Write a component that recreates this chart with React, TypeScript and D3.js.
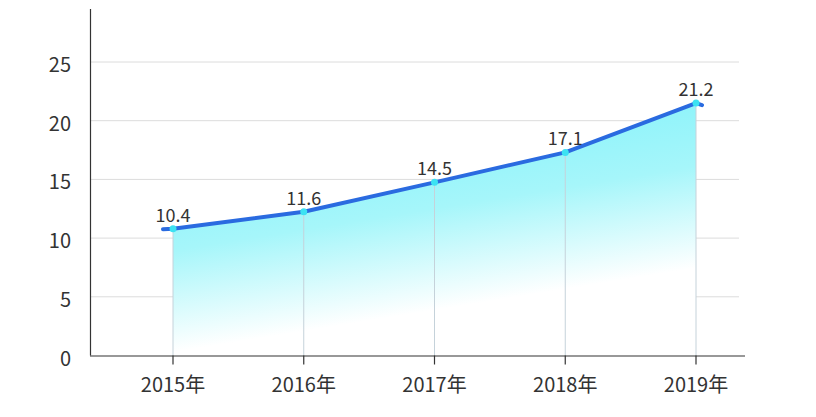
import { useEffect, useRef } from 'react';
import * as d3 from 'd3';

const years = ['2015年', '2016年', '2017年', '2018年', '2019年'];
// where the points sit on the plot
const values = [10.8, 12.25, 14.75, 17.3, 21.5];
// the numbers printed above the points
const labels = ['10.4', '11.6', '14.5', '17.1', '21.2'];
const yTicks = [0, 5, 10, 15, 20, 25];

export default function App() {
  const svgRef = useRef<SVGSVGElement>(null);

  useEffect(() => {
    if (!svgRef.current) return;
    const width = 816;
    const height = 417;
    const font = '"Noto Sans CJK SC", "Noto Sans", sans-serif';

    d3.select(svgRef.current).selectAll('*').remove();
    const svg = d3.select(svgRef.current)
      .attr('width', width)
      .attr('height', height)
      .attr('viewBox', `0 0 ${width} ${height}`);

    const x = d3.scalePoint<string>().domain(years).range([173, 696]);
    const y = d3.scaleLinear().domain([0, 25]).range([355.5, 62]);
    const left = 90;
    const right = 745;

    // gradient for area
    const defs = svg.append('defs');
    const grad = defs.append('linearGradient')
      .attr('id', 'areaFill')
      .attr('gradientUnits', 'userSpaceOnUse')
      .attr('x1', 34).attr('y1', 190)
      .attr('x2', 63).attr('y2', 370);
    grad.append('stop').attr('offset', '0%').attr('stop-color', '#8af3fa');
    grad.append('stop').attr('offset', '45%').attr('stop-color', '#a6f6fa');
    grad.append('stop').attr('offset', '100%').attr('stop-color', '#ffffff');

    // gridlines
    svg.append('g')
      .selectAll('line')
      .data(yTicks.filter(t => t > 0))
      .enter()
      .append('line')
      .attr('x1', left).attr('x2', 739)
      .attr('y1', d => y(d)).attr('y2', d => y(d))
      .style('stroke', '#dcdcdc')
      .style('stroke-width', '1px');

    // area
    const pts = years.map((c, i) => [x(c)!, y(values[i])] as [number, number]);
    const area = d3.area<[number, number]>()
      .x(d => d[0])
      .y0(y(0))
      .y1(d => d[1]);
    svg.append('path')
      .attr('d', area(pts)!)
      .style('fill', 'url(#areaFill)');

    // drop lines
    svg.append('g')
      .selectAll('line')
      .data(pts)
      .enter()
      .append('line')
      .attr('x1', d => d[0]).attr('x2', d => d[0])
      .attr('y1', d => d[1]).attr('y2', y(0))
      .style('stroke', '#c5d2da')
      .style('stroke-width', '1px');

    // axes
    svg.append('line')
      .attr('x1', left + 0.5).attr('x2', left + 0.5)
      .attr('y1', 9).attr('y2', y(0))
      .style('stroke', '#333')
      .style('stroke-width', '1.2px');
    svg.append('line')
      .attr('x1', left).attr('x2', right)
      .attr('y1', y(0) + 0.5).attr('y2', y(0) + 0.5)
      .style('stroke', '#333')
      .style('stroke-width', '1.2px');

    svg.append('g')
      .selectAll('line')
      .data(years)
      .enter()
      .append('line')
      .attr('x1', d => x(d)!).attr('x2', d => x(d)!)
      .attr('y1', y(0)).attr('y2', y(0) + 9)
      .style('stroke', '#333')
      .style('stroke-width', '1.2px');

    svg.append('g')
      .selectAll('text')
      .data(years)
      .enter()
      .append('text')
      .attr('x', d => x(d)!)
      .attr('y', 392)
      .attr('text-anchor', 'middle')
      .text(d => d)
      .style('fill', '#333')
      .style('font-family', font)
      .style('font-size', '20px');

    svg.append('g')
      .selectAll('text')
      .data(yTicks)
      .enter()
      .append('text')
      .attr('x', 71)
      .attr('y', d => y(d) + 10)
      .attr('text-anchor', 'end')
      .text(d => d)
      .style('fill', '#333')
      .style('font-family', font)
      .style('font-size', '20px');

    // line (with short tails at both ends as in the picture)
    const first = pts[0];
    const last = pts[pts.length - 1];
    const linePts: [number, number][] = [[first[0] - 10, first[1] + 0.5], ...pts, [last[0] + 6, last[1] + 2]];
    svg.append('path')
      .attr('d', d3.line()(linePts)!)
      .style('fill', 'none')
      .style('stroke', '#2a6be0')
      .style('stroke-width', '4px')
      .style('stroke-linejoin', 'round')
      .style('stroke-linecap', 'round');

    // points
    svg.append('g')
      .selectAll('circle')
      .data(pts)
      .enter()
      .append('circle')
      .attr('cx', d => d[0])
      .attr('cy', d => d[1])
      .attr('r', 3.5)
      .style('fill', '#3ce2f2');

    // value labels
    svg.append('g')
      .selectAll('text')
      .data(pts)
      .enter()
      .append('text')
      .attr('x', d => d[0])
      .attr('y', d => d[1] - 7)
      .attr('text-anchor', 'middle')
      .text((_, i) => labels[i])
      .style('fill', '#333')
      .style('font-family', font)
      .style('font-size', '18px');
  }, []);

  return (
    <div style={{ position: 'absolute', left: 0, top: 0, background: '#fff' }}>
      <svg ref={svgRef} style={{ display: 'block' }} />
    </div>
  );
}
